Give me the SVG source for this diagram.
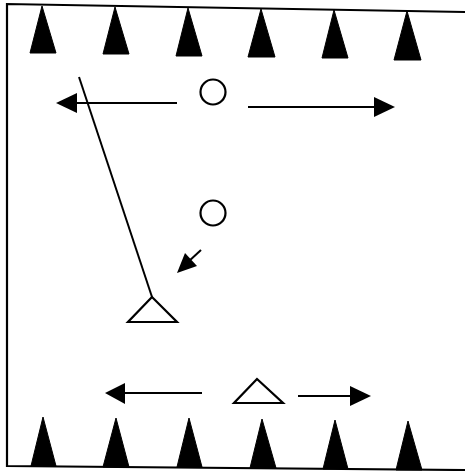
<svg xmlns="http://www.w3.org/2000/svg" width="465" height="471" viewBox="0 0 465 471">
<style>
.frame{fill:none;stroke:#000;stroke-width:2.2}
.cone{fill:#000;stroke:#000;stroke-width:1;stroke-linejoin:round}
.ln{fill:none;stroke:#000;stroke-width:2}
.open{fill:#fff;stroke:#000;stroke-width:2.2;stroke-linejoin:miter}
.head{fill:#000}
</style>
<rect width="465" height="471" fill="#fff"/>
<g id="frame">
<polyline class="frame" points="465,12 7,4 7,466 465,470"/>
</g>
<g id="cones-top">
<polygon class="cone" points="42,6 30,53 56,53"/>
<polygon class="cone" points="115,7 103,54 129,54"/>
<polygon class="cone" points="188,8 176,56 202,56"/>
<polygon class="cone" points="261,9 248,57 275,57"/>
<polygon class="cone" points="334,10 322,58 348,58"/>
<polygon class="cone" points="407,11 394,60 421,60"/>
</g>
<g id="cones-bottom">
<polygon class="cone" points="43,417 31,466 56,466"/>
<polygon class="cone" points="116,418 103,467 129,467"/>
<polygon class="cone" points="189,418 177,467 202,467"/>
<polygon class="cone" points="262,419 250,468 276,468"/>
<polygon class="cone" points="335,420 323,469 348,469"/>
<polygon class="cone" points="408,421 396,470 422,470"/>
</g>
<g id="ball-top"><circle class="open" cx="213" cy="92" r="12.5"/></g>
<g id="ball-mid"><circle class="open" cx="213" cy="213" r="12.5"/></g>
<g id="player-left"><polygon class="open" points="152,297 128,322 177,322"/></g>
<g id="player-bottom"><polygon class="open" points="257,379 234,403 283,403"/></g>
<g id="connectors">
<line class="ln" x1="177" y1="103" x2="72" y2="103"/>
<polygon class="head" points="56,103 77,93 77,113"/>
<line class="ln" x1="248" y1="107" x2="378" y2="107"/>
<polygon class="head" points="395,107 374,97 374,117"/>
<line class="ln" x1="79" y1="77" x2="152" y2="297"/>
<line class="ln" x1="201" y1="250" x2="188" y2="262"/>
<polygon class="head" points="177,273 185,253 197,266"/>
<line class="ln" x1="202" y1="393" x2="120" y2="393"/>
<polygon class="head" points="105,393 125,383 125,404"/>
<line class="ln" x1="298" y1="396" x2="355" y2="396"/>
<polygon class="head" points="371,396 350,386 350,406"/>
</g>
</svg>
